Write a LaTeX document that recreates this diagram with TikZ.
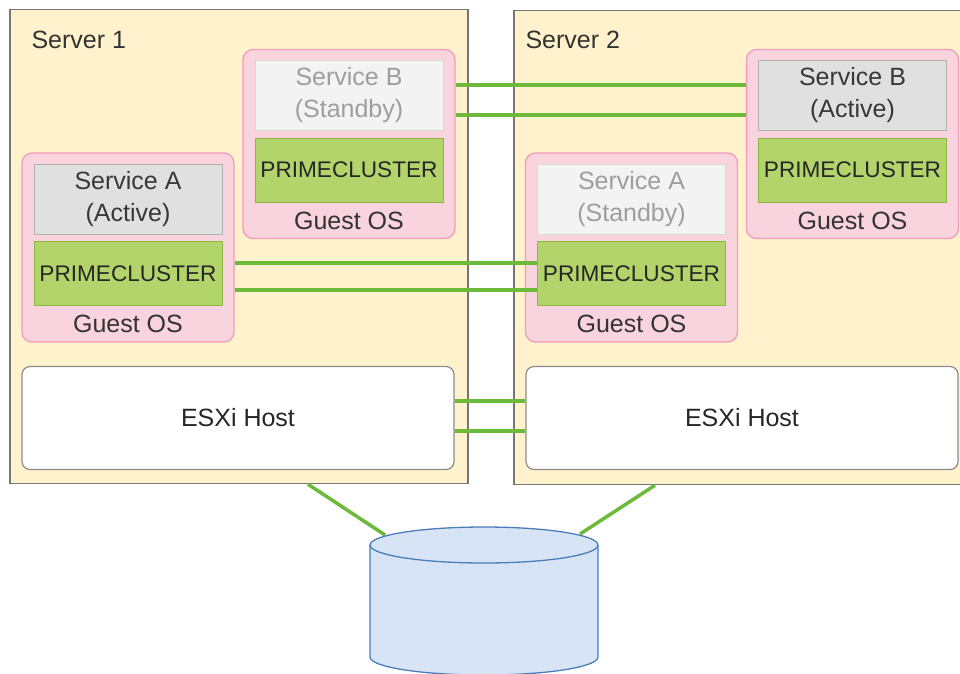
\documentclass[tikz,border=0pt]{standalone}
\usepackage{fontspec}
\setmainfont{Liberation Sans}
\usetikzlibrary{positioning}
\definecolor{srvfill}{HTML}{FFF2CC}
\definecolor{srvline}{HTML}{767676}
\definecolor{osfill}{HTML}{F9D3DD}
\definecolor{osline}{HTML}{F09DBA}
\definecolor{pclfill}{HTML}{B3D36B}
\definecolor{pclline}{HTML}{8CB83F}
\definecolor{svcon}{HTML}{E0E0E0}
\definecolor{svcoff}{HTML}{F3F3F3}
\definecolor{linkgreen}{HTML}{6DB93A}
\definecolor{diskfill}{HTML}{D6E4F5}
\definecolor{diskline}{HTML}{4A7DBA}
\newcommand{\SZ}{\fontsize{25}{32}\selectfont}
\newcommand{\PZ}{\fontsize{22.6}{28}\selectfont}
\tikzset{
    server/.style = {rectangle, draw=srvline, line width=1.5pt, fill=srvfill, minimum width=458pt, minimum height=474pt},
    guest/.style = {rectangle, rounded corners=10pt, draw=osline, line width=1.3pt, fill=osfill, minimum width=212pt, minimum height=189pt},
    svcact/.style = {rectangle, draw=black!30, line width=1pt, fill=svcon, text=black!78, align=center, minimum width=188pt, minimum height=70pt, font=\SZ},
    svcstby/.style = {svcact, draw=black!15, fill=svcoff, text=black!38},
    pcl/.style = {rectangle, draw=pclline, line width=1pt, fill=pclfill, text=black!85, minimum width=188pt, minimum height=64pt, font=\PZ},
    esxi/.style = {rectangle, rounded corners=8pt, draw=black!45, line width=1.2pt, fill=white, text=black!85, minimum width=432pt, minimum height=103pt, font=\SZ},
    lbl/.style = {text=black!80, font=\SZ},
    link/.style = {draw=linkgreen, line width=3.5pt},
    disk/.style = {draw=diskline, line width=1.3pt, fill=diskfill},
    rim/.style = {x radius=114pt, y radius=18pt}
}

\begin{document}
\begin{tikzpicture}[x=1pt,y=-1pt]
\clip (0,0) rectangle (960,673);
% servers
\node[server] at (239.0, 246.5) (srv1) {};
\node[server] at (743.0, 247.5) (srv2) {};
\node[lbl, anchor=west] at (28.0, 40.0) (srv1l) {Server 1};
\node[lbl, anchor=west] at (522.0, 40.0) (srv2l) {Server 2};
%
\node[guest] at (128.0, 247.5) (gA1) {};
\node[svcact] at (128.0, 199.0) (sA1) {Service A\\(Active)};
\node[pcl] at (128.0, 273.5) (pA1) {PRIMECLUSTER};
\node[lbl] at (128.0, 324.0) (oA1) {Guest OS};
%
\node[guest] at (349.0, 144.0) (gB1) {};
\node[svcstby] at (349.0, 95.0) (sB1) {Service B\\(Standby)};
\node[pcl] at (349.0, 170.0) (pB1) {PRIMECLUSTER};
\node[lbl] at (349.0, 221.0) (oB1) {Guest OS};
%
\node[guest] at (631.5, 247.5) (gA2) {};
\node[svcstby] at (631.5, 199.0) (sA2) {Service A\\(Standby)};
\node[pcl] at (631.5, 273.5) (pA2) {PRIMECLUSTER};
\node[lbl] at (631.5, 324.0) (oA2) {Guest OS};
%
\node[guest] at (852.5, 144.0) (gB2) {};
\node[svcact] at (852.5, 95.0) (sB2) {Service B\\(Active)};
\node[pcl] at (852.5, 170.0) (pB2) {PRIMECLUSTER};
\node[lbl] at (852.5, 221.0) (oB2) {Guest OS};
%
\node[esxi] at (238.0, 418.0) (esx1) {ESXi Host};
\node[esxi] at (742.0, 418.0) (esx2) {ESXi Host};
% heartbeat lines
\draw[link] ([yshift=59pt]gB1.east) -- ([yshift=59pt]gB2.west);
\draw[link] ([yshift=29pt]gB1.east) -- ([yshift=29pt]gB2.west);
\draw[link] ([yshift=-15.5pt]gA1.east) -- ([yshift=10.5pt]pA2.west);
\draw[link] ([yshift=-42.5pt]gA1.east) -- ([yshift=-16.5pt]pA2.west);
\draw[link] ([yshift=17pt]esx1.east) -- ([yshift=17pt]esx2.west);
\draw[link] ([yshift=-13pt]esx1.east) -- ([yshift=-13pt]esx2.west);
% storage
\coordinate (disktop) at (484.0, 545.0);
\draw[link] ([xshift=69pt]srv1.south) -- ([shift={(-99pt,10pt)}]disktop);
\draw[link] ([xshift=-88pt]srv2.south) -- ([shift={(96pt,11pt)}]disktop);
\draw[disk] (370.0, 545.0) -- (370.0, 657.0) arc[start angle=180, end angle=360, rim]
    -- (598.0, 545.0) arc[start angle=0, end angle=180, rim] -- cycle;
\draw[disk] (370.0, 545.0) arc[start angle=180, end angle=360, rim];

\end{tikzpicture}
\end{document}
